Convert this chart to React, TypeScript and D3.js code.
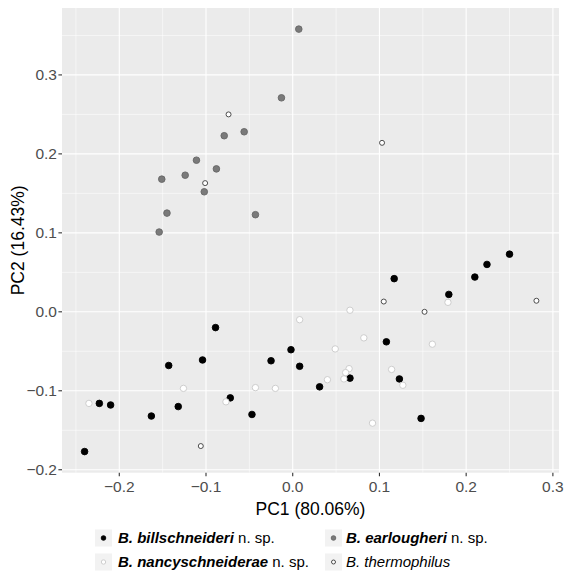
import React from 'react';
import * as d3 from 'd3';

// PC1 / PC2 scores, one list per species
const billschneideri: [number, number][] = [
    [-0.240, -0.177], [-0.223, -0.116], [-0.210, -0.118], [-0.163, -0.132],
    [-0.143, -0.068], [-0.132, -0.120], [-0.104, -0.061], [-0.089, -0.020],
    [-0.072, -0.109], [-0.047, -0.130], [-0.025, -0.062], [-0.002, -0.048],
    [0.008, -0.069], [0.031, -0.095], [0.066, -0.084], [0.123, -0.085],
    [0.108, -0.038], [0.117, 0.042], [0.148, -0.135], [0.180, 0.022],
    [0.210, 0.044], [0.224, 0.060], [0.250, 0.073]
];

const earlougheri: [number, number][] = [
    [0.007, 0.358], [-0.013, 0.271], [-0.056, 0.228], [-0.079, 0.223],
    [-0.111, 0.192], [-0.088, 0.181], [-0.151, 0.168], [-0.124, 0.173],
    [-0.102, 0.152], [-0.145, 0.125], [-0.043, 0.123], [-0.154, 0.101]
];

const nancyschneiderae: [number, number][] = [
    [-0.235, -0.116], [-0.126, -0.097], [-0.077, -0.114], [-0.043, -0.096],
    [-0.020, -0.097], [0.008, -0.010], [0.040, -0.086], [0.049, -0.047],
    [0.066, 0.002], [0.082, -0.033], [0.065, -0.072], [0.061, -0.077],
    [0.059, -0.085], [0.114, -0.073], [0.127, -0.093], [0.092, -0.141],
    [0.161, -0.041], [0.179, 0.012]
];

const thermophilus: [number, number][] = [
    [-0.074, 0.250], [-0.101, 0.163], [0.103, 0.214], [0.105, 0.013],
    [0.152, 0.000], [0.281, 0.014], [-0.106, -0.170]
];

const majorTicks = [-0.2, -0.1, 0.0, 0.1, 0.2, 0.3];
const minorX = [-0.25, -0.15, -0.05, 0.05, 0.15, 0.25];
const minorY = [-0.15, -0.05, 0.05, 0.15, 0.25, 0.35];

const groups = [
    { name: 'B. billschneideri', bold: true, suffix: ' n. sp.', data: billschneideri, fill: '#000000', stroke: '#000000', r: 3.3, kr: 2.3 },
    { name: 'B. earlougheri', bold: true, suffix: ' n. sp.', data: earlougheri, fill: '#7a7a7a', stroke: '#666666', r: 3.3, kr: 2.3 },
    { name: 'B. nancyschneiderae', bold: true, suffix: ' n. sp.', data: nancyschneiderae, fill: '#ffffff', stroke: '#c8c8c8', r: 3.2, kr: 2.2 },
    { name: 'B. thermophilus', bold: false, suffix: '', data: thermophilus, fill: '#ffffff', stroke: '#3a3a3a', r: 2.5, kr: 2.0 }
];

const W = 565;
const H = 573;
const panel = { left: 62, top: 8, right: 559, bottom: 472.7 };
const font = '"Liberation Sans", Arial, Helvetica, sans-serif';

const expand = (ext: [number, number]): [number, number] => {
    const pad = (ext[1] - ext[0]) * 0.05;
    return [ext[0] - pad, ext[1] + pad];
};

export default function App() {
    const all = groups.flatMap(g => g.data);
    const x = d3.scaleLinear()
        .domain(expand(d3.extent(all, d => d[0]) as [number, number]))
        .range([panel.left, panel.right]);
    const y = d3.scaleLinear()
        .domain(expand(d3.extent(all, d => d[1]) as [number, number]))
        .range([panel.bottom, panel.top]);

    const pw = panel.right - panel.left;
    const ph = panel.bottom - panel.top;
    const fmt = d3.format('.1f');
    const label = (v: number) => fmt(v).replace('-', '\u2212');

    const legendPos = [
        { kx: 95, tx: 118, cy: 538 },
        { kx: 325, tx: 346, cy: 538 },
        { kx: 95, tx: 118, cy: 562 },
        { kx: 325, tx: 346, cy: 562 }
    ];

    return (
        <svg width={W} height={H} style={{ position: 'absolute', left: 0, top: 0, fontFamily: font }}>
            <rect x={0} y={0} width={W} height={H} fill="#ffffff" />
            <rect x={panel.left} y={panel.top} width={pw} height={ph} fill="#ebebeb" />

            {minorX.map(v => (
                <line key={'mx' + v} x1={x(v)} x2={x(v)} y1={panel.top} y2={panel.bottom} stroke="#ffffff" strokeWidth={0.55} />
            ))}
            {minorY.filter(v => y(v) >= panel.top).map(v => (
                <line key={'my' + v} x1={panel.left} x2={panel.right} y1={y(v)} y2={y(v)} stroke="#ffffff" strokeWidth={0.55} />
            ))}
            {majorTicks.map(v => (
                <line key={'gx' + v} x1={x(v)} x2={x(v)} y1={panel.top} y2={panel.bottom} stroke="#ffffff" strokeWidth={1.1} />
            ))}
            {majorTicks.map(v => (
                <line key={'gy' + v} x1={panel.left} x2={panel.right} y1={y(v)} y2={y(v)} stroke="#ffffff" strokeWidth={1.1} />
            ))}

            {groups.map(g => (
                <g key={g.name}>
                    {g.data.map((d, i) => (
                        <circle key={i} cx={x(d[0])} cy={y(d[1])} r={g.r} fill={g.fill} stroke={g.stroke} strokeWidth={0.9} />
                    ))}
                </g>
            ))}

            {/* y axis */}
            {majorTicks.map(v => (
                <g key={'ty' + v}>
                    <line x1={panel.left - 3.6} x2={panel.left} y1={y(v)} y2={y(v)} stroke="#333333" strokeWidth={1.1} />
                    <text x={panel.left - 5} y={y(v)} dy="0.35em" textAnchor="end" fontSize={15.5} fill="#4d4d4d">{label(v)}</text>
                </g>
            ))}
            {/* x axis */}
            {majorTicks.map(v => (
                <g key={'tx' + v}>
                    <line x1={x(v)} x2={x(v)} y1={panel.bottom} y2={panel.bottom + 3.6} stroke="#333333" strokeWidth={1.1} />
                    <text x={x(v)} y={panel.bottom + 19} textAnchor="middle" fontSize={15.5} fill="#4d4d4d">{label(v)}</text>
                </g>
            ))}

            <text x={(panel.left + panel.right) / 2} y={515} textAnchor="middle" fontSize={17.5} fill="#000000">PC1 (80.06%)</text>
            <text transform={`translate(24, ${(panel.top + panel.bottom) / 2}) rotate(-90)`} textAnchor="middle" fontSize={17.5} fill="#000000">PC2 (16.43%)</text>

            {/* legend */}
            {groups.map((g, i) => {
                const p = legendPos[i];
                return (
                    <g key={'lg' + g.name}>
                        <rect x={p.kx} y={p.cy - 8.5} width={17} height={17} fill="#f2f2f2" />
                        <circle cx={p.kx + 8.5} cy={p.cy} r={g.kr} fill={g.fill} stroke={g.stroke} strokeWidth={0.9} />
                        <text x={p.tx} y={p.cy} dy="0.35em" fontSize={15} fill="#000000">
                            <tspan fontStyle="italic" fontWeight={g.bold ? 'bold' : 'normal'}>{g.name}</tspan>
                            {g.suffix && <tspan>{g.suffix}</tspan>}
                        </text>
                    </g>
                );
            })}
        </svg>
    );
}
